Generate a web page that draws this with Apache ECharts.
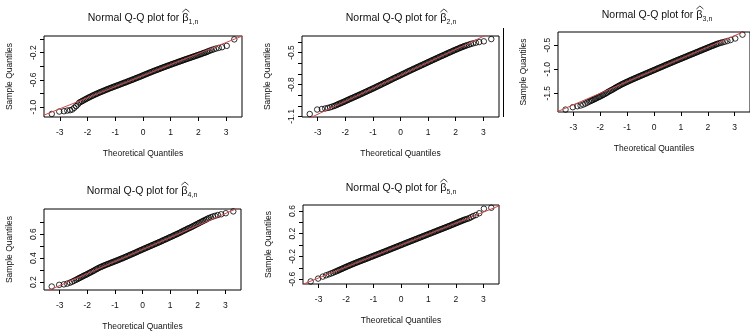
<!DOCTYPE html>
<html>
<head>
<meta charset="utf-8">
<script src="https://cdn.jsdelivr.net/npm/echarts@6/dist/echarts.min.js"></script>
<style>
  html, body { margin: 0; padding: 0; background: #fff; }
  #chart { width: 750px; height: 332px; }
</style>
</head>
<body>
<div id="chart"></div>
<script>
// theoretical normal quantiles (shared by all five panels)
const theoQ = [-3.29, -3.02, -2.85, -2.73, -2.63, -2.55, -2.48, -2.41, -2.35,
  -2.3, -2.25, -2.2, -2.15, -2.1, -2.05, -2.0, -1.95, -1.9, -1.85,
  -1.8, -1.75, -1.7, -1.65, -1.6, -1.55, -1.5, -1.45, -1.4, -1.35,
  -1.3, -1.25, -1.2, -1.15, -1.1, -1.05, -1.0, -0.95, -0.9, -0.85,
  -0.8, -0.75, -0.7, -0.65, -0.6, -0.55, -0.5, -0.45, -0.4, -0.35,
  -0.3, -0.25, -0.2, -0.15, -0.1, -0.05, 0, 0.05, 0.1, 0.15,
  0.2, 0.25, 0.3, 0.35, 0.4, 0.45, 0.5, 0.55, 0.6, 0.65,
  0.7, 0.75, 0.8, 0.85, 0.9, 0.95, 1.0, 1.05, 1.1, 1.15,
  1.2, 1.25, 1.3, 1.35, 1.4, 1.45, 1.5, 1.55, 1.6, 1.65,
  1.7, 1.75, 1.8, 1.85, 1.9, 1.95, 2.0, 2.05, 2.1, 2.15,
  2.2, 2.25, 2.3,
  2.35, 2.41, 2.48, 2.55, 2.63, 2.73, 2.85, 3.02, 3.29];

// sample quantiles
const sample1 = [-1.10, -1.065, -1.06, -1.05, -1.045, -1.035, -1.01, -0.985, -0.96,
  -0.935, -0.923, -0.913, -0.901, -0.890, -0.879, -0.868, -0.858, -0.848, -0.838,
  -0.828, -0.818, -0.809, -0.800, -0.791, -0.782, -0.774, -0.765, -0.757, -0.748,
  -0.740, -0.732, -0.724, -0.716, -0.708, -0.700, -0.693, -0.685, -0.678, -0.670,
  -0.662, -0.654, -0.646, -0.639, -0.632, -0.623, -0.615, -0.608, -0.600, -0.592,
  -0.584, -0.575, -0.567, -0.559, -0.551, -0.543, -0.534, -0.525, -0.517, -0.508,
  -0.500, -0.492, -0.484, -0.476, -0.468, -0.460, -0.452, -0.445, -0.437, -0.429,
  -0.421, -0.413, -0.406, -0.398, -0.391, -0.384, -0.376, -0.368, -0.361, -0.354,
  -0.347, -0.339, -0.332, -0.325, -0.318, -0.310, -0.303, -0.296, -0.289, -0.282,
  -0.275, -0.268, -0.261, -0.254, -0.247, -0.240, -0.233, -0.226, -0.219, -0.211,
  -0.204, -0.197, -0.19,
  -0.18, -0.17, -0.16, -0.15, -0.14, -0.13, -0.12, -0.10, -0.005];
const sample2 = [-1.077, -1.035, -1.030, -1.025, -1.020, -1.014, -1.008, -1.002, -0.996,
  -0.990, -0.984, -0.979, -0.973, -0.968, -0.962, -0.956, -0.950, -0.944, -0.938,
  -0.932, -0.927, -0.921, -0.915, -0.909, -0.904, -0.898, -0.892, -0.886, -0.880,
  -0.874, -0.868, -0.862, -0.856, -0.850, -0.844, -0.838, -0.832, -0.826, -0.819,
  -0.813, -0.807, -0.801, -0.794, -0.788, -0.782, -0.776, -0.769, -0.763, -0.756,
  -0.750, -0.743, -0.737, -0.731, -0.725, -0.719, -0.713, -0.706, -0.700, -0.694,
  -0.688, -0.681, -0.675, -0.669, -0.663, -0.657, -0.651, -0.645, -0.639, -0.633,
  -0.627, -0.621, -0.615, -0.609, -0.603, -0.597, -0.591, -0.585, -0.579, -0.573,
  -0.567, -0.561, -0.555, -0.549, -0.543, -0.537, -0.532, -0.526, -0.520, -0.514,
  -0.508, -0.502, -0.497, -0.491, -0.485, -0.479, -0.474, -0.468, -0.463, -0.457,
  -0.452, -0.447, -0.442,
  -0.437, -0.432, -0.426, -0.420, -0.414, -0.408, -0.402, -0.395, -0.374];
const sample3 = [-1.84, -1.79, -1.77, -1.755, -1.735, -1.715, -1.695, -1.675, -1.66,
  -1.645, -1.632, -1.620, -1.605, -1.590, -1.578, -1.565, -1.550, -1.535, -1.520,
  -1.505, -1.488, -1.470, -1.455, -1.440, -1.425, -1.410, -1.392, -1.375, -1.360,
  -1.345, -1.330, -1.315, -1.301, -1.288, -1.275, -1.262, -1.249, -1.236, -1.223,
  -1.211, -1.198, -1.186, -1.174, -1.162, -1.150, -1.138, -1.126, -1.114, -1.102,
  -1.090, -1.078, -1.066, -1.054, -1.042, -1.030, -1.018, -1.006, -0.994, -0.982,
  -0.970, -0.958, -0.946, -0.934, -0.922, -0.910, -0.898, -0.887, -0.875, -0.863,
  -0.851, -0.839, -0.827, -0.816, -0.804, -0.793, -0.781, -0.770, -0.758, -0.747,
  -0.735, -0.724, -0.712, -0.701, -0.689, -0.678, -0.666, -0.655, -0.643, -0.632,
  -0.620, -0.609, -0.597, -0.586, -0.574, -0.563, -0.551, -0.540, -0.528, -0.517,
  -0.506, -0.495, -0.484,
  -0.473, -0.462, -0.450, -0.440, -0.428, -0.412, -0.392, -0.36, -0.28];
const sample4 = [0.164, 0.178, 0.182, 0.188, 0.196, 0.204, 0.212, 0.220, 0.227,
  0.233, 0.239, 0.245, 0.251, 0.257, 0.262, 0.268, 0.274, 0.280, 0.286,
  0.292, 0.298, 0.305, 0.311, 0.317, 0.323, 0.328, 0.333, 0.338, 0.343,
  0.347, 0.352, 0.356, 0.361, 0.365, 0.370, 0.374, 0.379, 0.383, 0.388,
  0.393, 0.397, 0.402, 0.407, 0.412, 0.417, 0.422, 0.427, 0.432, 0.437,
  0.442, 0.447, 0.452, 0.458, 0.463, 0.468, 0.473, 0.478, 0.483, 0.488,
  0.493, 0.498, 0.503, 0.508, 0.513, 0.518, 0.523, 0.528, 0.533, 0.538,
  0.543, 0.549, 0.554, 0.559, 0.564, 0.570, 0.575, 0.580, 0.585, 0.591,
  0.596, 0.601, 0.607, 0.612, 0.618, 0.624, 0.630, 0.635, 0.641, 0.647,
  0.652, 0.657, 0.663, 0.669, 0.675, 0.681, 0.687, 0.693, 0.699, 0.705,
  0.711, 0.716, 0.722,
  0.728, 0.735, 0.741, 0.747, 0.753, 0.760, 0.766, 0.775, 0.790];
const sample5 = [-0.64, -0.59, -0.555, -0.532, -0.515, -0.500, -0.487, -0.472, -0.460,
  -0.449, -0.438, -0.428, -0.417, -0.406, -0.395, -0.385, -0.374, -0.364, -0.353,
  -0.343, -0.333, -0.323, -0.313, -0.304, -0.294, -0.285, -0.275, -0.266, -0.257,
  -0.248, -0.238, -0.229, -0.219, -0.210, -0.200, -0.191, -0.181, -0.172, -0.162,
  -0.153, -0.143, -0.134, -0.124, -0.115, -0.105, -0.096, -0.086, -0.076, -0.067,
  -0.057, -0.047, -0.038, -0.028, -0.018, -0.009, 0.001, 0.010, 0.020, 0.030,
  0.040, 0.049, 0.059, 0.068, 0.078, 0.087, 0.097, 0.106, 0.116, 0.125,
  0.135, 0.144, 0.154, 0.163, 0.173, 0.182, 0.192, 0.201, 0.211, 0.220,
  0.230, 0.239, 0.249, 0.258, 0.268, 0.277, 0.287, 0.296, 0.306, 0.315,
  0.325, 0.334, 0.344, 0.354, 0.364, 0.374, 0.384, 0.394, 0.404, 0.414,
  0.424, 0.433, 0.443,
  0.452, 0.461, 0.472, 0.49, 0.51, 0.528, 0.56, 0.64, 0.657];

// reference (qqline) end points at x = -4 and x = 4
const qqLineX = [-4, 4];
const qqLine1 = [-1.187, 0.113];
const qqLine2 = [-1.201, -0.227];
const qqLine3 = [-1.98, -0.06];
const qqLine4 = [0.072, 0.872];
const qqLine5 = [-0.772, 0.772];

// ticks and labels
const xTicks = [-3, -2, -1, 0, 1, 2, 3];
const yTicks1 = [-1.0, -0.8, -0.6, -0.4, -0.2, 0.0];
const yLabels1 = [-1.0, -0.6, -0.2];
const yTicks2 = [-1.1, -1.0, -0.9, -0.8, -0.7, -0.6, -0.5, -0.4];
const yLabels2 = [-1.1, -0.8, -0.5];
const yTicks3 = [-1.5, -1.0, -0.5];
const yLabels3 = [-1.5, -1.0, -0.5];
const yTicks4 = [0.2, 0.3, 0.4, 0.5, 0.6, 0.7];
const yLabels4 = [0.2, 0.4, 0.6];
const yTicks5 = [-0.6, -0.4, -0.2, 0.0, 0.2, 0.4, 0.6];
const yLabels5 = [-0.6, -0.2, 0.2, 0.6];
const subscripts = ['1,n', '2,n', '3,n', '4,n', '5,n'];

const FONT = '"Liberation Sans", Arial, sans-serif';
const INK = '#111';
const TITLE_PRE = 'Normal Q-Q plot for ';
const TITLE_SIZE = 10.5, BETA_SIZE = 11, SUB_SIZE = 7;

const panels = [
  { sample: sample1, line: qqLine1, yTicks: yTicks1, yLabels: yLabels1,
    yMin: -1.145, yMax: 0.045, box: { left: 44, top: 36, width: 198, height: 81 }, titleX: 143, titleY: 10 },
  { sample: sample2, line: qqLine2, yTicks: yTicks2, yLabels: yLabels2,
    yMin: -1.105, yMax: -0.345, box: { left: 302, top: 36, width: 197, height: 81 }, titleX: 401, titleY: 10 },
  { sample: sample3, line: qqLine3, yTicks: yTicks3, yLabels: yLabels3,
    yMin: -1.89, yMax: -0.225, box: { left: 558, top: 32, width: 197, height: 80 }, titleX: 657, titleY: 7 },
  { sample: sample4, line: qqLine4, yTicks: yTicks4, yLabels: yLabels4,
    yMin: 0.135, yMax: 0.81, box: { left: 44, top: 209, width: 197, height: 81 }, titleX: 142, titleY: 183 },
  { sample: sample5, line: qqLine5, yTicks: yTicks5, yLabels: yLabels5,
    yMin: -0.685, yMax: 0.705, box: { left: 303, top: 205, width: 196, height: 79 }, titleX: 401, titleY: 180 }
];

// measure title pieces so the hat can sit over the beta
const measureCtx = document.createElement('canvas').getContext('2d');
function textWidth(s, size) {
  measureCtx.font = size + 'px "Liberation Sans", Arial, sans-serif';
  return measureCtx.measureText(s).width;
}

const grid = [], xAxis = [], yAxis = [], series = [], title = [], graphic = [];

panels.forEach((p, i) => {
  grid.push(Object.assign({ show: true, borderColor: '#000', borderWidth: 1, containLabel: false }, p.box));

  title.push({
    text: TITLE_PRE + '{b|β}{sub|' + subscripts[i] + '}',
    left: p.titleX,
    top: p.titleY,
    textAlign: 'center',
    padding: 0,
    textStyle: {
      fontFamily: FONT, fontSize: TITLE_SIZE, fontWeight: 'normal', color: INK, lineHeight: 16,
      rich: {
        b: { fontFamily: FONT, fontSize: BETA_SIZE, color: INK, lineHeight: 16 },
        sub: { fontFamily: FONT, fontSize: SUB_SIZE, color: INK, lineHeight: 7, verticalAlign: 'bottom' }
      }
    }
  });

  // hat over beta
  const wPre = textWidth(TITLE_PRE, TITLE_SIZE);
  const wB = textWidth('β', BETA_SIZE);
  const wSub = textWidth(subscripts[i], SUB_SIZE);
  const total = wPre + wB + wSub;
  const cx = p.titleX - total / 2 + wPre + wB / 2 + 0.5;
  const hy = p.titleY - 1;
  graphic.push({
    type: 'polyline', silent: true,
    shape: { points: [[cx - 3.5, hy + 3], [cx, hy], [cx + 3.5, hy + 3]] },
    style: { stroke: INK, lineWidth: 0.8, fill: null }
  });

  xAxis.push({
    type: 'value', gridIndex: i, min: -3.57, max: 3.57,
    name: 'Theoretical Quantiles', nameLocation: 'middle', nameGap: 32,
    nameTextStyle: { fontFamily: FONT, fontSize: 8.5, color: INK },
    axisLine: { show: false, onZero: false },
    axisTick: { show: true, inside: false, length: 4, customValues: xTicks, lineStyle: { color: '#000' } },
    axisLabel: { customValues: xTicks, margin: 11, fontFamily: FONT, fontSize: 8.5, color: INK,
      formatter: v => String(v) },
    splitLine: { show: false }
  });

  yAxis.push({
    type: 'value', gridIndex: i, min: p.yMin, max: p.yMax,
    name: 'Sample Quantiles', nameLocation: 'middle', nameGap: 30,
    nameTextStyle: { fontFamily: FONT, fontSize: 8.5, color: INK },
    axisLine: { show: false, onZero: false },
    axisTick: { show: true, inside: false, length: 4, customValues: p.yTicks, lineStyle: { color: '#000' } },
    axisLabel: { customValues: p.yLabels, rotate: 90, margin: 6, fontFamily: FONT, fontSize: 8.5, color: INK,
      formatter: v => v.toFixed(1) },
    splitLine: { show: false }
  });

  series.push({
    type: 'scatter', xAxisIndex: i, yAxisIndex: i,
    data: theoQ.map((x, k) => [x, p.sample[k]]),
    symbol: 'circle', symbolSize: 5.5,
    itemStyle: { color: 'rgba(0,0,0,0)', borderColor: '#000', borderWidth: 1 },
    z: 2
  });
  series.push({
    type: 'line', xAxisIndex: i, yAxisIndex: i,
    data: qqLineX.map((x, k) => [x, p.line[k]]),
    symbol: 'none', clip: true,
    lineStyle: { color: '#cf4a4a', width: 1 },
    z: 3
  });
});

// stray frame edge visible left of the third panel
graphic.push({
  type: 'line', silent: true,
  shape: { x1: 503.5, y1: 28, x2: 503.5, y2: 117 },
  style: { stroke: '#000', lineWidth: 1 }
});

const chart = echarts.init(document.getElementById('chart'), null, { renderer: 'canvas' });
chart.setOption({
  backgroundColor: '#fff',
  animation: false,
  title: title,
  grid: grid,
  xAxis: xAxis,
  yAxis: yAxis,
  series: series,
  graphic: graphic
});
</script>
</body>
</html>
